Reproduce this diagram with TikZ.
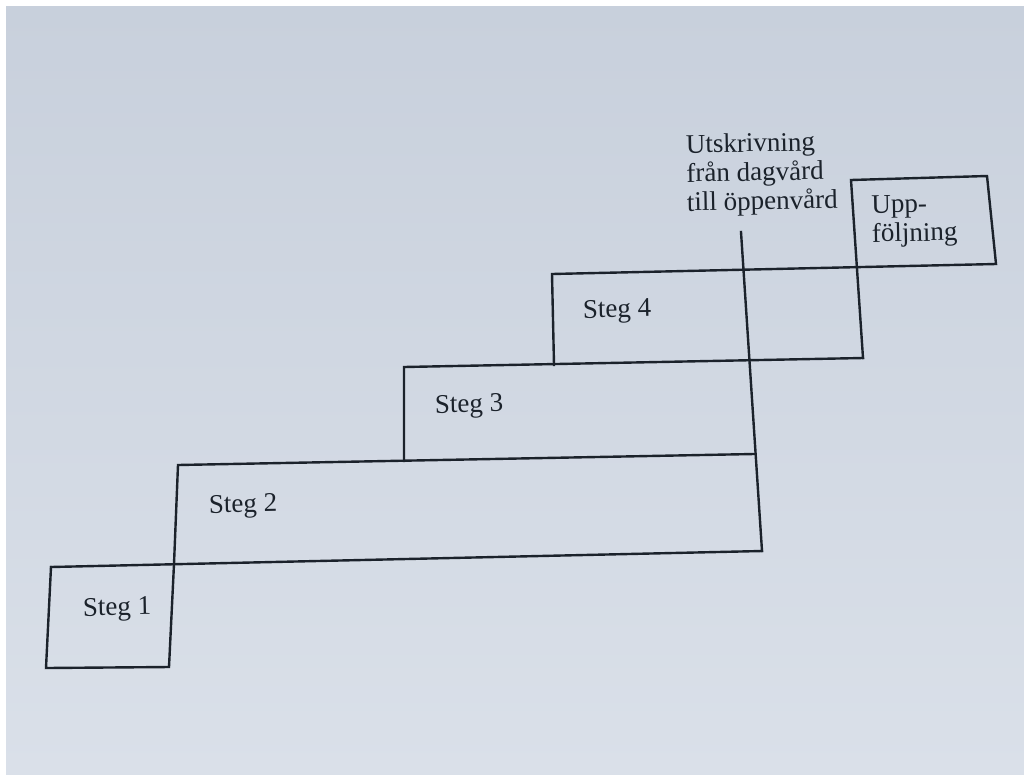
\documentclass[tikz,border=0pt]{standalone}
\usepackage{fontspec}
\setmainfont{Liberation Serif}
\definecolor{ink}{HTML}{1B222B}
\definecolor{papertop}{HTML}{C8D0DC}
\definecolor{paperbot}{HTML}{DAE0E9}
\tikzset{
  stair/.style={draw=ink, line width=2.4pt, line join=miter, line cap=rect},
  label/.style={inner sep=0pt, anchor=base west, text=ink, rotate=1.1,
    font=\fontsize{27}{29}\selectfont, align=left}
}
\begin{document}
\begin{tikzpicture}[x=1pt, y=-1pt]
  \useasboundingbox (0,0) rectangle (1024,774);
  \fill[white] (0,0) rectangle (1024,774);
  \shade[top color=papertop, bottom color=paperbot] (6,6) rectangle (1024,774);

  % corner points of the staircase
  \coordinate (s1bl) at (46,668);
  \coordinate (s1br) at (169,667);
  \coordinate (s1tl) at (51,567);
  \coordinate (s1tr) at (174,564);
  \coordinate (s2tl) at (178,465);
  \coordinate (s2tr) at (754,454);
  \coordinate (s2br) at (762,551);
  \coordinate (s3tl) at (404,367);
  \coordinate (s3bl) at (404,461);
  \coordinate (s4tl) at (552,274);
  \coordinate (s4bl) at (554,365);
  \coordinate (s4br) at (863,358);
  \coordinate (uptl) at (851,180);
  \coordinate (uptr) at (987,176);
  \coordinate (upbr) at (996,264);
  \coordinate (mark) at (741,232);

  % steps
  \draw[stair] (s1tl) -- (s1bl) -- (s1br) -- (s1tr) -- (s2tl) -- (s2tr);
  \draw[stair] (s1tl) -- (s2br);
  \draw[stair] (s3bl) -- (s3tl) -- (s4br);
  \draw[stair] (s4bl) -- (s4tl) -- (upbr) -- (uptr) -- (uptl) -- (s4br);
  % discharge marker line
  \draw[stair] (mark) -- (s2br);

  % labels (multi-line nodes are anchored at the baseline of their last line)
  \node[label] (l1) at (83,616) {Steg 1};
  \node[label] (l2) at (209,513) {Steg 2};
  \node[label] (l3) at (435,413) {Steg 3};
  \node[label] (l4) at (583,318) {Steg 4};
  \node[label] (lu) at (687,211) {Utskrivning\\från dagvård\\till öppenvård};
  \node[label] (lf) at (872,242) {Upp-\\följning};
\end{tikzpicture}
\end{document}
